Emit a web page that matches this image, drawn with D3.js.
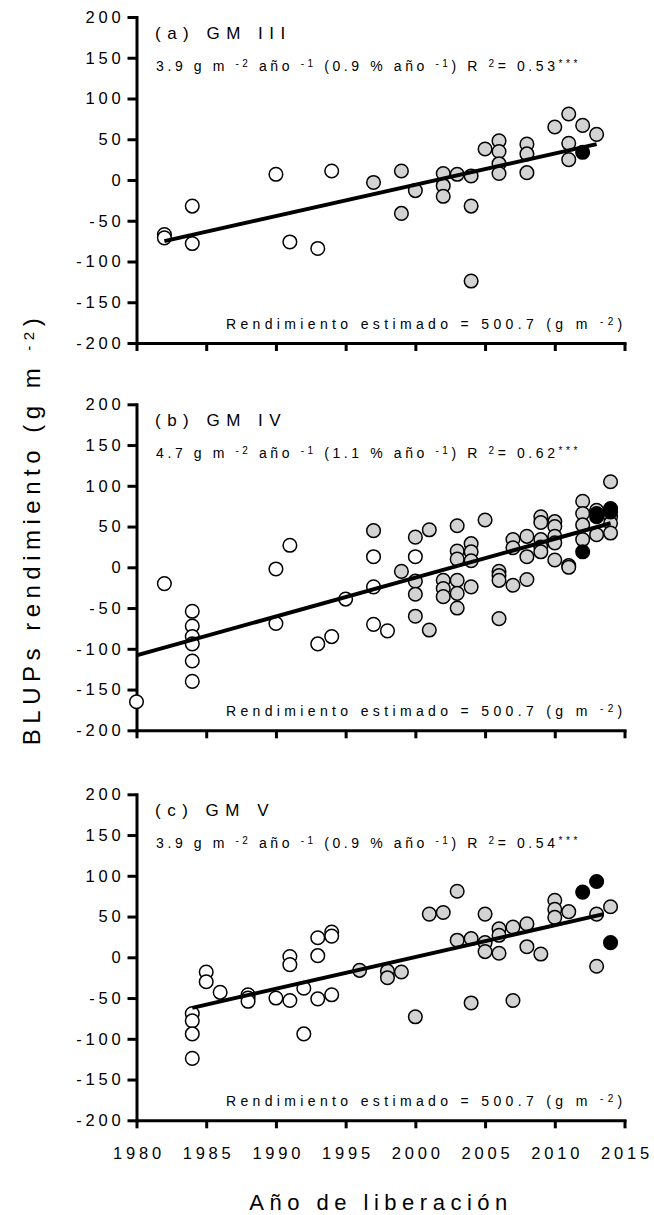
<!DOCTYPE html>
<html>
<head>
<meta charset="utf-8">
<script src="https://cdn.jsdelivr.net/npm/d3@7"></script>
<style>
  body { margin: 0; background: #fff; }
  svg text { font-family: "Liberation Sans", Arial, sans-serif; fill: #000; }
</style>
</head>
<body>
<div id="plot"></div>
<script>
// Ticks and labels
const yearTicks = [1980, 1985, 1990, 1995, 2000, 2005, 2010, 2015];
const blupTicks = [-200, -150, -100, -50, 0, 50, 100, 150, 200];
const panelTitles = ["(a) GM III", "(b) GM IV", "(c) GM V"];
const slopes = ["3.9", "4.7", "3.9"];
const slopePct = ["0.9", "1.1", "0.9"];
const r2 = ["0.53", "0.62", "0.54"];
const meanYield = "500.7";

// Panel (a) GM III  [year, BLUP]
const aWhite = [[1982,-67],[1982,-71],[1984,-32],[1984,-78],[1990,7],[1991,-76],[1993,-84],[1994,11]];
const aGrey = [[1997,-3],[1999,11],[1999,-41],[2000,-13],[2002,8],[2002,-7],[2002,-20],[2003,7],
  [2004,5],[2004,-32],[2004,-124],[2005,38],[2006,48],[2006,35],[2006,20],[2006,8],[2008,44],
  [2008,32],[2008,9],[2010,65],[2011,81],[2011,45],[2011,25],[2012,67],[2013,56]];
const aBlack = [[2012,34]];
const aFit = [[1982,-75],[2013,44]];

// Panel (b) GM IV
const bWhite = [[1980,-165],[1982,-20],[1984,-54],[1984,-72],[1984,-85],[1984,-94],[1984,-115],
  [1984,-140],[1990,-2],[1990,-69],[1991,27],[1993,-94],[1994,-85],[1995,-39],[1997,13],
  [1997,-24],[1997,-70],[1998,-78],[2000,13]];
const bGrey = [[1997,45],[1999,-5],[2000,37],[2000,-17],[2000,-33],[2000,-60],[2001,46],[2001,-77],
  [2002,-16],[2002,-26],[2002,-36],[2003,51],[2003,20],[2003,10],[2003,-16],[2003,-32],[2003,-50],
  [2004,29],[2004,19],[2004,8],[2004,-24],[2005,58],[2006,-5],[2006,-10],[2006,-16],[2006,-63],
  [2007,34],[2007,24],[2007,-22],[2008,38],[2008,13],[2008,-15],[2009,62],[2009,55],[2009,34],
  [2009,25],[2009,19],[2010,56],[2010,50],[2010,38],[2010,30],[2010,9],[2011,2],[2011,0],
  [2012,81],[2012,66],[2012,52],[2012,34],[2013,70],[2013,40],[2014,105],[2014,62],[2014,54],[2014,42]];
const bBlack = [[2012,19],[2013,62],[2013,66],[2014,72],[2014,68]];
const bFit = [[1980,-108],[2014,54]];

// Panel (c) GM V
const cWhite = [[1984,-69],[1984,-78],[1984,-94],[1984,-124],[1985,-18],[1985,-30],[1986,-43],
  [1988,-46],[1988,-50],[1988,-54],[1990,-50],[1991,1],[1991,-9],[1991,-53],[1992,-38],[1992,-94],
  [1993,24],[1993,2],[1993,-51],[1994,31],[1994,26],[1994,-46]];
const cGrey = [[1996,-16],[1998,-17],[1998,-25],[1999,-18],[2000,-73],[2001,53],[2002,55],[2003,81],
  [2003,21],[2004,23],[2004,-56],[2005,53],[2005,18],[2005,7],[2006,35],[2006,27],[2006,5],
  [2007,37],[2007,-53],[2008,41],[2008,13],[2009,4],[2010,70],[2010,59],[2010,49],[2011,56],
  [2013,53],[2013,-11],[2014,62]];
const cBlack = [[2012,80],[2013,93],[2014,18]];
const cFit = [[1984,-62],[2013.5,53]];

const panels = [
  {white: aWhite, grey: aGrey, black: aBlack, fit: aFit},
  {white: bWhite, grey: bGrey, black: bBlack, fit: bFit},
  {white: cWhite, grey: cGrey, black: cBlack, fit: cFit}
];

const width = 654;
const height = 1215;
const panelTops = [17, 404.3, 794.3];
const plotH = 326;
const fontFam = '"Liberation Sans", Arial, sans-serif';
const tickLS = 3.8;

const svg = d3.select("#plot")
  .append("svg")
  .attr("width", width)
  .attr("height", height);

const x = d3.scaleLinear()
  .domain([1980, 2015])
  .range([136.5, 624.5]);

// write text pieces, superscripts raised and smaller
function sup(text, parts, supSize) {
  parts.forEach(([s, up]) => {
    text.append("tspan")
      .attr("baseline-shift", up ? "40%" : null)
      .style("font-size", up ? supSize : null)
      .text(s);
  });
}

panels.forEach((p, i) => {
  const top = panelTops[i];
  const y = d3.scaleLinear()
    .domain([-200, 200])
    .range([top + plotH, top]);

  const g = svg.append("g");

  // y axis
  const yAx = g.append("g")
    .attr("transform", `translate(${x(1980)},0)`)
    .call(d3.axisLeft(y).tickValues(blupTicks).tickSize(9).tickSizeOuter(0)
      .tickPadding(3).tickFormat(d => String(d)));
  yAx.selectAll("path, line").attr("stroke-width", 3);
  yAx.select(".domain").attr("stroke-linecap", "square");
  yAx.selectAll("text")
    .style("font-size", "16.5px")
    .style("font-family", fontFam)
    .style("letter-spacing", tickLS + "px");

  // x axis
  const xAx = g.append("g")
    .attr("transform", `translate(0,${y(-200)})`)
    .call(d3.axisBottom(x).tickValues(yearTicks).tickSize(8).tickSizeOuter(0)
      .tickPadding(19).tickFormat(i === 2 ? d3.format("d") : () => ""));
  xAx.selectAll("path, line").attr("stroke-width", 3);
  xAx.select(".domain").attr("stroke-linecap", "square");
  xAx.selectAll("text")
    .attr("dx", tickLS / 2)
    .style("font-size", "16.5px")
    .style("font-family", fontFam)
    .style("letter-spacing", tickLS + "px");

  // points
  const groups = [[p.white, "#ffffff"], [p.grey, "#d3d3d3"]];
  groups.forEach(([data, fill]) => {
    g.append("g").selectAll("circle")
      .data(data)
      .join("circle")
      .attr("cx", d => x(d[0]))
      .attr("cy", d => y(d[1]))
      .attr("r", 6.8)
      .attr("fill", fill)
      .attr("stroke", "#000")
      .attr("stroke-width", 1.5);
  });

  // regression line
  g.append("path")
    .datum(p.fit)
    .attr("d", d3.line().x(d => x(d[0])).y(d => y(d[1])))
    .attr("stroke", "#000")
    .attr("stroke-width", 4)
    .attr("fill", "none");

  g.append("g").selectAll("circle")
    .data(p.black)
    .join("circle")
    .attr("cx", d => x(d[0]))
    .attr("cy", d => y(d[1]))
    .attr("r", 6.8)
    .attr("fill", "#000")
    .attr("stroke", "#000")
    .attr("stroke-width", 1.5);

  // panel title
  g.append("text")
    .attr("x", 155)
    .attr("y", top + 22)
    .style("font-size", "17px")
    .style("letter-spacing", "6.5px")
    .text(panelTitles[i]);

  // slope / R2 line
  const f = g.append("text")
    .attr("x", 156)
    .attr("y", top + 54)
    .style("font-size", "14px")
    .style("letter-spacing", "3.6px");
  sup(f, [
    [slopes[i] + " g m ", false], ["-2", true], [" año ", false], ["-1", true],
    [" (" + slopePct[i] + " % año ", false], ["-1", true], [") R ", false], ["2", true],
    ["= " + r2[i], false], ["***", true]
  ], "10px");

  // estimated yield
  const e = g.append("text")
    .attr("x", 226)
    .attr("y", top + 312)
    .style("font-size", "14px")
    .style("letter-spacing", "4.35px");
  sup(e, [["Rendimiento estimado = " + meanYield + " (g m ", false], ["-2", true], [")", false]], "10px");
});

// axis titles
svg.append("text")
  .attr("transform", "translate(40,529) rotate(-90)")
  .attr("text-anchor", "middle")
  .style("font-size", "24px")
  .style("letter-spacing", "5.5px")
  .call(t => sup(t, [["BLUPs rendimiento (g m ", false], ["-2", true], [")", false]], "15px"));

svg.append("text")
  .attr("x", 381)
  .attr("y", 1210)
  .attr("text-anchor", "middle")
  .style("font-size", "22px")
  .style("letter-spacing", "5.5px")
  .text("Año de liberación");
</script>
</body>
</html>
